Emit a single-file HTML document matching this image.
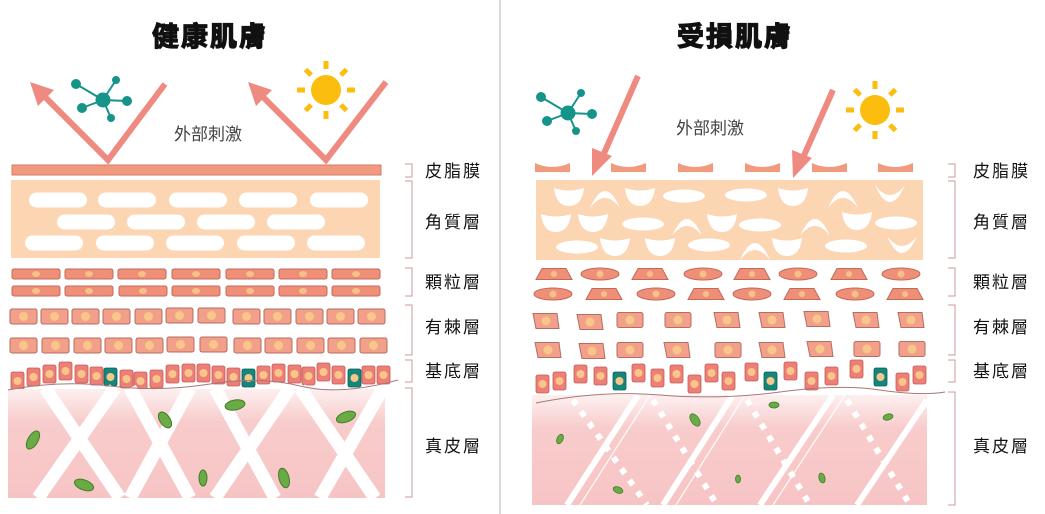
<!DOCTYPE html>
<html><head><meta charset="utf-8"><style>
html,body{margin:0;padding:0;background:#fff;width:1045px;height:514px;overflow:hidden}
svg{display:block}
text{font-family:"Liberation Sans","Noto Sans CJK TC",sans-serif}
</style></head><body>
<svg width="1045" height="514" viewBox="0 0 1045 514" xmlns="http://www.w3.org/2000/svg">
<defs>
<linearGradient id="dg" x1="0" y1="0" x2="0" y2="1">
<stop offset="0" stop-color="#fdf0f0"/><stop offset="0.3" stop-color="#f8cccc"/><stop offset="1" stop-color="#f7c4c4"/>
</linearGradient>
<g id="gc"><rect x="0" y="0" width="48" height="10" rx="2" fill="#f08f78" stroke="#c26a5a" stroke-width="1"/><ellipse cx="24" cy="5" rx="4" ry="3" fill="#f6c08a"/></g>
<g id="sc"><rect x="0" y="0" width="27" height="15" rx="2" fill="#f3a08a" stroke="#b66d63" stroke-width="1"/><circle cx="13.5" cy="7.5" r="4.5" fill="#f8c68a"/></g>
<g id="bc"><rect x="0" y="0" width="13" height="18" rx="2" fill="#ee7f76" stroke="#c05d58" stroke-width="0.8"/><circle cx="6.5" cy="9" r="4" fill="#f8c68a"/></g>
<g id="tc"><rect x="0" y="0" width="13" height="18" rx="2" fill="#14867a" stroke="#0c5f56" stroke-width="0.8"/><circle cx="6.5" cy="9" r="4" fill="#f8c68a"/></g>
<g id="pill"><rect x="0" y="-7.5" width="58" height="15" rx="7.5" fill="#fff"/></g>
<g id="bowl"><path d="M-15,-8 Q0,-3 15,-8 Q13,10 0,10 Q-13,10 -15,-8Z" fill="#fff"/></g>
<g id="arch"><path d="M-15,10 Q0,-24 15,10 Q0,-10 -15,10Z" fill="#fff"/></g>
<g id="cres"><path d="M-15,-10 Q0,24 15,-10 Q0,10 -15,-10Z" fill="#fff"/></g>
<g id="el"><ellipse cx="0" cy="0" rx="21" ry="6.5" fill="#fff"/></g>
<g id="gtrap"><path d="M-12,-5.5 L12,-5.5 L18,5.5 L-18,5.5Z" fill="#f08f78" stroke="#c26a5a" stroke-width="1"/><circle cx="0" cy="0" r="3" fill="#f6c08a"/></g>
<g id="gell"><ellipse cx="0" cy="0" rx="19" ry="6" fill="#f08f78" stroke="#c26a5a" stroke-width="1"/><circle cx="0" cy="0" r="3.5" fill="#f6c08a"/></g>
<g id="rs"><rect x="-13" y="-7.5" width="26" height="15" rx="2" fill="#f3a08a" stroke="#b66d63" stroke-width="1"/><circle cx="0" cy="0" r="4.5" fill="#f8c68a"/></g>
<g id="rsk"><path d="M-13,-7.5 L11,-7.5 L13,7.5 L-10,7.5Z" fill="#f3a08a" stroke="#b66d63" stroke-width="1"/><circle cx="0" cy="0" r="4.5" fill="#f8c68a"/></g>
<g id="sebum"><path d="M0,0 Q17,8 35,0 L35,9 L0,9Z" fill="#f19a7e"/></g>
<g id="mol" fill="#16948a" stroke="#16948a">
<line x1="0" y1="0" x2="-27" y2="-16" stroke-width="2"/><line x1="0" y1="0" x2="13" y2="-20" stroke-width="2"/><line x1="0" y1="0" x2="24" y2="1" stroke-width="2"/><line x1="0" y1="0" x2="-21" y2="8" stroke-width="2"/><line x1="0" y1="0" x2="8" y2="18" stroke-width="2"/>
<circle r="7"/><circle cx="-27" cy="-16" r="4.5"/><circle cx="13" cy="-20" r="3.5"/><circle cx="24" cy="1" r="4.5"/><circle cx="-21" cy="8" r="4.5"/><circle cx="8" cy="18" r="3.5"/>
</g>
<g id="sun" fill="#fbbd0e">
<circle r="15"/>
<rect x="-2.5" y="-29" width="5" height="8"/><rect x="-2.5" y="21" width="5" height="8"/><rect x="-29" y="-2.5" width="8" height="5"/><rect x="21" y="-2.5" width="8" height="5"/>
<rect x="-2.5" y="-29" width="5" height="8" transform="rotate(45)"/><rect x="-2.5" y="-29" width="5" height="8" transform="rotate(135)"/><rect x="-2.5" y="-29" width="5" height="8" transform="rotate(225)"/><rect x="-2.5" y="-29" width="5" height="8" transform="rotate(315)"/>
</g>
</defs>

<line x1="500" y1="0" x2="500" y2="514" stroke="#cfcfcf" stroke-width="1.5"/>

<!-- LEFT -->
<text x="210" y="46" font-size="27" font-weight="bold" text-anchor="middle" fill="#111" stroke="#111" stroke-width="1.2" letter-spacing="2">健康肌膚</text>
<g stroke="#ee8a80" stroke-width="6" fill="none" stroke-linejoin="miter">
<polyline points="40,92 108,160 165,84"/><polyline points="258,92 326,160 386,82"/>
</g>
<polygon points="30,82 54,90 38,106" fill="#ee8a80"/>
<polygon points="248,82 272,90 256,106" fill="#ee8a80"/>
<use href="#mol" x="103" y="100"/>
<use href="#sun" x="326" y="90"/>
<text x="208" y="140" font-size="17" text-anchor="middle" fill="#444">外部刺激</text>

<rect x="12" y="165" width="369" height="10" fill="#f19a7e" stroke="#d47a68" stroke-width="1"/>
<rect x="11" y="180" width="369" height="78" fill="#fcd5b3"/>
<use href="#pill" x="29" y="200"/><use href="#pill" x="98" y="200"/><use href="#pill" x="169" y="200"/><use href="#pill" x="239" y="200"/><use href="#pill" x="310" y="200"/>
<use href="#pill" x="57" y="222"/><use href="#pill" x="127" y="222"/><use href="#pill" x="197" y="222"/><use href="#pill" x="267" y="222"/>
<use href="#pill" x="25" y="243"/><use href="#pill" x="96" y="243"/><use href="#pill" x="166" y="243"/><use href="#pill" x="237" y="243"/><use href="#pill" x="307" y="243"/>

<use href="#gc" x="12" y="269"/><use href="#gc" x="65" y="269"/><use href="#gc" x="118" y="269"/><use href="#gc" x="172" y="269"/><use href="#gc" x="226" y="269"/><use href="#gc" x="279" y="269"/><use href="#gc" x="332" y="269"/>
<use href="#gc" x="12" y="286"/><use href="#gc" x="65" y="286"/><use href="#gc" x="119" y="286"/><use href="#gc" x="172" y="286"/><use href="#gc" x="226" y="286"/><use href="#gc" x="279" y="286"/><use href="#gc" x="332" y="286"/>

<use href="#sc" x="10" y="309"/><use href="#sc" x="41" y="309"/><use href="#sc" x="72" y="309"/><use href="#sc" x="103" y="309"/><use href="#sc" x="135" y="309"/><use href="#sc" x="166" y="308"/><use href="#sc" x="198" y="308"/><use href="#sc" x="233" y="309"/><use href="#sc" x="264" y="309"/><use href="#sc" x="296" y="309"/><use href="#sc" x="327" y="309"/><use href="#sc" x="358" y="309"/>
<use href="#sc" x="10" y="338"/><use href="#sc" x="42" y="338"/><use href="#sc" x="74" y="338"/><use href="#sc" x="105" y="338"/><use href="#sc" x="136" y="338"/><use href="#sc" x="167" y="337"/><use href="#sc" x="200" y="337"/><use href="#sc" x="234" y="338"/><use href="#sc" x="265" y="338"/><use href="#sc" x="297" y="338"/><use href="#sc" x="328" y="338"/><use href="#sc" x="360" y="338"/>

<use href="#bc" x="11" y="372"/><use href="#bc" x="27" y="368"/><use href="#bc" x="43" y="365"/><use href="#bc" x="59" y="362"/><use href="#bc" x="75" y="365"/><use href="#bc" x="90" y="367"/><use href="#tc" x="104" y="368"/><use href="#bc" x="120" y="370"/><use href="#bc" x="134" y="372"/><use href="#bc" x="150" y="370"/><use href="#bc" x="166" y="365"/><use href="#bc" x="182" y="364"/><use href="#bc" x="197" y="364"/><use href="#bc" x="212" y="366"/><use href="#bc" x="227" y="368"/><use href="#tc" x="242" y="369"/><use href="#bc" x="257" y="366"/><use href="#bc" x="272" y="364"/><use href="#bc" x="288" y="365"/><use href="#bc" x="302" y="367"/><use href="#bc" x="317" y="363"/><use href="#bc" x="332" y="366"/><use href="#tc" x="348" y="369"/><use href="#bc" x="362" y="366"/><use href="#bc" x="377" y="366"/>

<rect x="8" y="389" width="377" height="109" fill="url(#dg)"/>
<g stroke="#fff" stroke-width="13">
<line x1="45" y1="388" x2="120" y2="498"/><line x1="130" y1="388" x2="190" y2="498"/><line x1="215" y1="388" x2="275" y2="498"/><line x1="300" y1="388" x2="375" y2="498"/>
<line x1="115" y1="388" x2="38" y2="498"/><line x1="190" y1="388" x2="130" y2="498"/><line x1="290" y1="388" x2="215" y2="498"/><line x1="383" y1="388" x2="320" y2="498"/>
</g>
<path d="M8,390 Q60,380 110,386 T210,384 T300,386 T398,380" fill="none" stroke="#a77" stroke-width="1"/>
<g fill="#6aab45" stroke="#3f7d2a" stroke-width="1">
<ellipse cx="33" cy="440" rx="5" ry="10" transform="rotate(30 33 440)"/>
<ellipse cx="165" cy="420" rx="5" ry="9" transform="rotate(-35 165 420)"/>
<ellipse cx="235" cy="405" rx="10" ry="5" transform="rotate(-10 235 405)"/>
<ellipse cx="346" cy="417" rx="10" ry="5" transform="rotate(-20 346 417)"/>
<ellipse cx="84" cy="485" rx="10" ry="5" transform="rotate(20 84 485)"/>
<ellipse cx="203" cy="478" rx="4" ry="8"/>
<ellipse cx="284" cy="478" rx="5" ry="10" transform="rotate(-15 284 478)"/>
</g>

<!-- brackets & labels -->
<g stroke="#c99" stroke-width="1" fill="none">
<path d="M405,164 H412 V177 H405"/><path d="M405,181 H412 V258 H405"/><path d="M405,268 H412 V296 H405"/><path d="M405,305 H412 V355 H405"/><path d="M405,360 H412 V382 H405"/><path d="M405,388 H412 V497 H405"/>
<path d="M948,164 H955 V177 H948"/><path d="M948,181 H955 V258 H948"/><path d="M948,268 H955 V296 H948"/><path d="M948,305 H955 V355 H948"/><path d="M948,360 H955 V382 H948"/><path d="M948,392 H955 V505 H948"/>
</g>
<g font-size="17" fill="#111" letter-spacing="2">
<text x="425" y="177">皮脂膜</text><text x="425" y="228">角質層</text><text x="425" y="288">顆粒層</text><text x="425" y="333">有棘層</text><text x="425" y="377">基底層</text><text x="425" y="452">真皮層</text>
<text x="973" y="177">皮脂膜</text><text x="973" y="228">角質層</text><text x="973" y="288">顆粒層</text><text x="973" y="333">有棘層</text><text x="973" y="377">基底層</text><text x="973" y="452">真皮層</text>
</g>

<!-- RIGHT -->
<text x="735" y="46" font-size="27" font-weight="bold" text-anchor="middle" fill="#111" stroke="#111" stroke-width="1.2" letter-spacing="2">受損肌膚</text>
<g stroke="#ee8a80" stroke-width="6"><line x1="638" y1="76" x2="602" y2="158"/><line x1="833" y1="90" x2="802" y2="160"/></g>
<polygon points="592,176 592,148 612,156" fill="#ee8a80"/>
<polygon points="793,178 792,150 812,158" fill="#ee8a80"/>
<use href="#mol" x="568" y="113"/>
<use href="#sun" x="875" y="110"/>
<text x="710" y="134" font-size="17" text-anchor="middle" fill="#444">外部刺激</text>

<use href="#sebum" x="535" y="163"/><use href="#sebum" x="611" y="163"/><use href="#sebum" x="678" y="163"/><use href="#sebum" x="745" y="163"/><use href="#sebum" x="812" y="163"/><use href="#sebum" x="878" y="163"/>
<rect x="536" y="180" width="387" height="80" fill="#fcd5b3"/>
<use href="#bowl" x="569" y="196"/><use href="#arch" x="605" y="198"/><use href="#bowl" x="640" y="196"/><use href="#el" x="684" y="196"/><use href="#el" x="746" y="195"/><use href="#bowl" x="793" y="196"/><use href="#arch" x="843" y="198"/><use href="#cres" x="890" y="195"/>
<use href="#bowl" x="556" y="222"/><use href="#bowl" x="593" y="222"/><use href="#el" x="643" y="224"/><use href="#arch" x="687" y="226"/><use href="#bowl" x="722" y="222"/><use href="#el" x="760" y="225"/><use href="#arch" x="815" y="226"/><use href="#bowl" x="857" y="220"/><use href="#el" x="896" y="223"/>
<use href="#el" x="577" y="247"/><use href="#bowl" x="615" y="246"/><use href="#bowl" x="660" y="246"/><use href="#el" x="709" y="245"/><use href="#arch" x="755" y="250"/><use href="#bowl" x="787" y="246"/><use href="#el" x="846" y="246"/><use href="#cres" x="902" y="246"/>

<use href="#gtrap" x="554" y="274"/><use href="#gell" x="600" y="274"/><use href="#gtrap" x="650" y="274"/><use href="#gell" x="703" y="274"/><use href="#gtrap" x="752" y="274"/><use href="#gell" x="798" y="274"/><use href="#gtrap" x="849" y="274"/><use href="#gell" x="901" y="274"/>
<use href="#gell" x="553" y="294"/><use href="#gtrap" x="604" y="294"/><use href="#gell" x="656" y="294"/><use href="#gtrap" x="706" y="294"/><use href="#gell" x="752" y="294"/><use href="#gtrap" x="802" y="294"/><use href="#gell" x="855" y="294"/><use href="#gtrap" x="905" y="294"/>

<use href="#rsk" x="546" y="321"/><use href="#rsk" x="590" y="322"/><use href="#rs" x="630" y="320"/><use href="#rs" x="678" y="320"/><use href="#rsk" x="727" y="320"/><use href="#rsk" x="772" y="320"/><use href="#rsk" x="817" y="319"/><use href="#rsk" x="866" y="320"/><use href="#rsk" x="911" y="320"/>
<use href="#rsk" x="548" y="350"/><use href="#rsk" x="592" y="351"/><use href="#rs" x="630" y="350"/><use href="#rsk" x="677" y="350"/><use href="#rs" x="728" y="350"/><use href="#rsk" x="772" y="350"/><use href="#rsk" x="820" y="349"/><use href="#rs" x="867" y="349"/><use href="#rs" x="912" y="349"/>

<use href="#bc" x="536" y="375"/><use href="#bc" x="553" y="372"/><use href="#bc" x="574" y="365"/><use href="#bc" x="594" y="367"/><use href="#tc" x="613" y="372"/><use href="#bc" x="632" y="364"/><use href="#bc" x="651" y="369"/><use href="#bc" x="670" y="365"/><use href="#bc" x="688" y="375"/><use href="#bc" x="705" y="364"/><use href="#bc" x="722" y="372"/><use href="#bc" x="745" y="363"/><use href="#tc" x="764" y="372"/><use href="#bc" x="784" y="362"/><use href="#bc" x="805" y="372"/><use href="#bc" x="825" y="367"/><use href="#bc" x="850" y="360"/><use href="#tc" x="874" y="368"/><use href="#bc" x="896" y="373"/><use href="#bc" x="913" y="366"/>

<rect x="532" y="395" width="395" height="110" fill="url(#dg)"/>
<g stroke="#fff" stroke-width="6">
<line x1="638" y1="395" x2="567" y2="505"/><line x1="733" y1="395" x2="663" y2="505"/><line x1="833" y1="395" x2="760" y2="505"/><line x1="927" y1="400" x2="857" y2="505"/>
</g>
<g stroke="#fff" stroke-width="1.2" opacity="0.9">
<line x1="650" y1="395" x2="580" y2="505"/><line x1="745" y1="395" x2="676" y2="505"/><line x1="845" y1="395" x2="773" y2="505"/>
</g>
<g stroke="#fff" stroke-width="6" stroke-dasharray="6 8">
<line x1="573" y1="400" x2="647" y2="505"/><line x1="653" y1="400" x2="717" y2="505"/><line x1="747" y1="400" x2="810" y2="505"/><line x1="847" y1="400" x2="910" y2="505"/>
</g>
<path d="M536,403 Q600,390 660,395 T780,392 T880,390 T945,392" fill="none" stroke="#a77" stroke-width="1"/>
<g fill="#6aab45" stroke="#3f7d2a" stroke-width="0.8">
<ellipse cx="560" cy="439" rx="3" ry="5" transform="rotate(25 560 439)"/>
<ellipse cx="695" cy="420" rx="4" ry="7" transform="rotate(-35 695 420)"/>
<ellipse cx="774" cy="405" rx="5" ry="3"/>
<ellipse cx="888" cy="417" rx="5" ry="3" transform="rotate(-15 888 417)"/>
<ellipse cx="618" cy="490" rx="5" ry="3" transform="rotate(20 618 490)"/>
<ellipse cx="738" cy="479" rx="2.5" ry="4"/>
<ellipse cx="822" cy="478" rx="3" ry="5" transform="rotate(-15 822 478)"/>
</g>
</svg>
</body></html>
